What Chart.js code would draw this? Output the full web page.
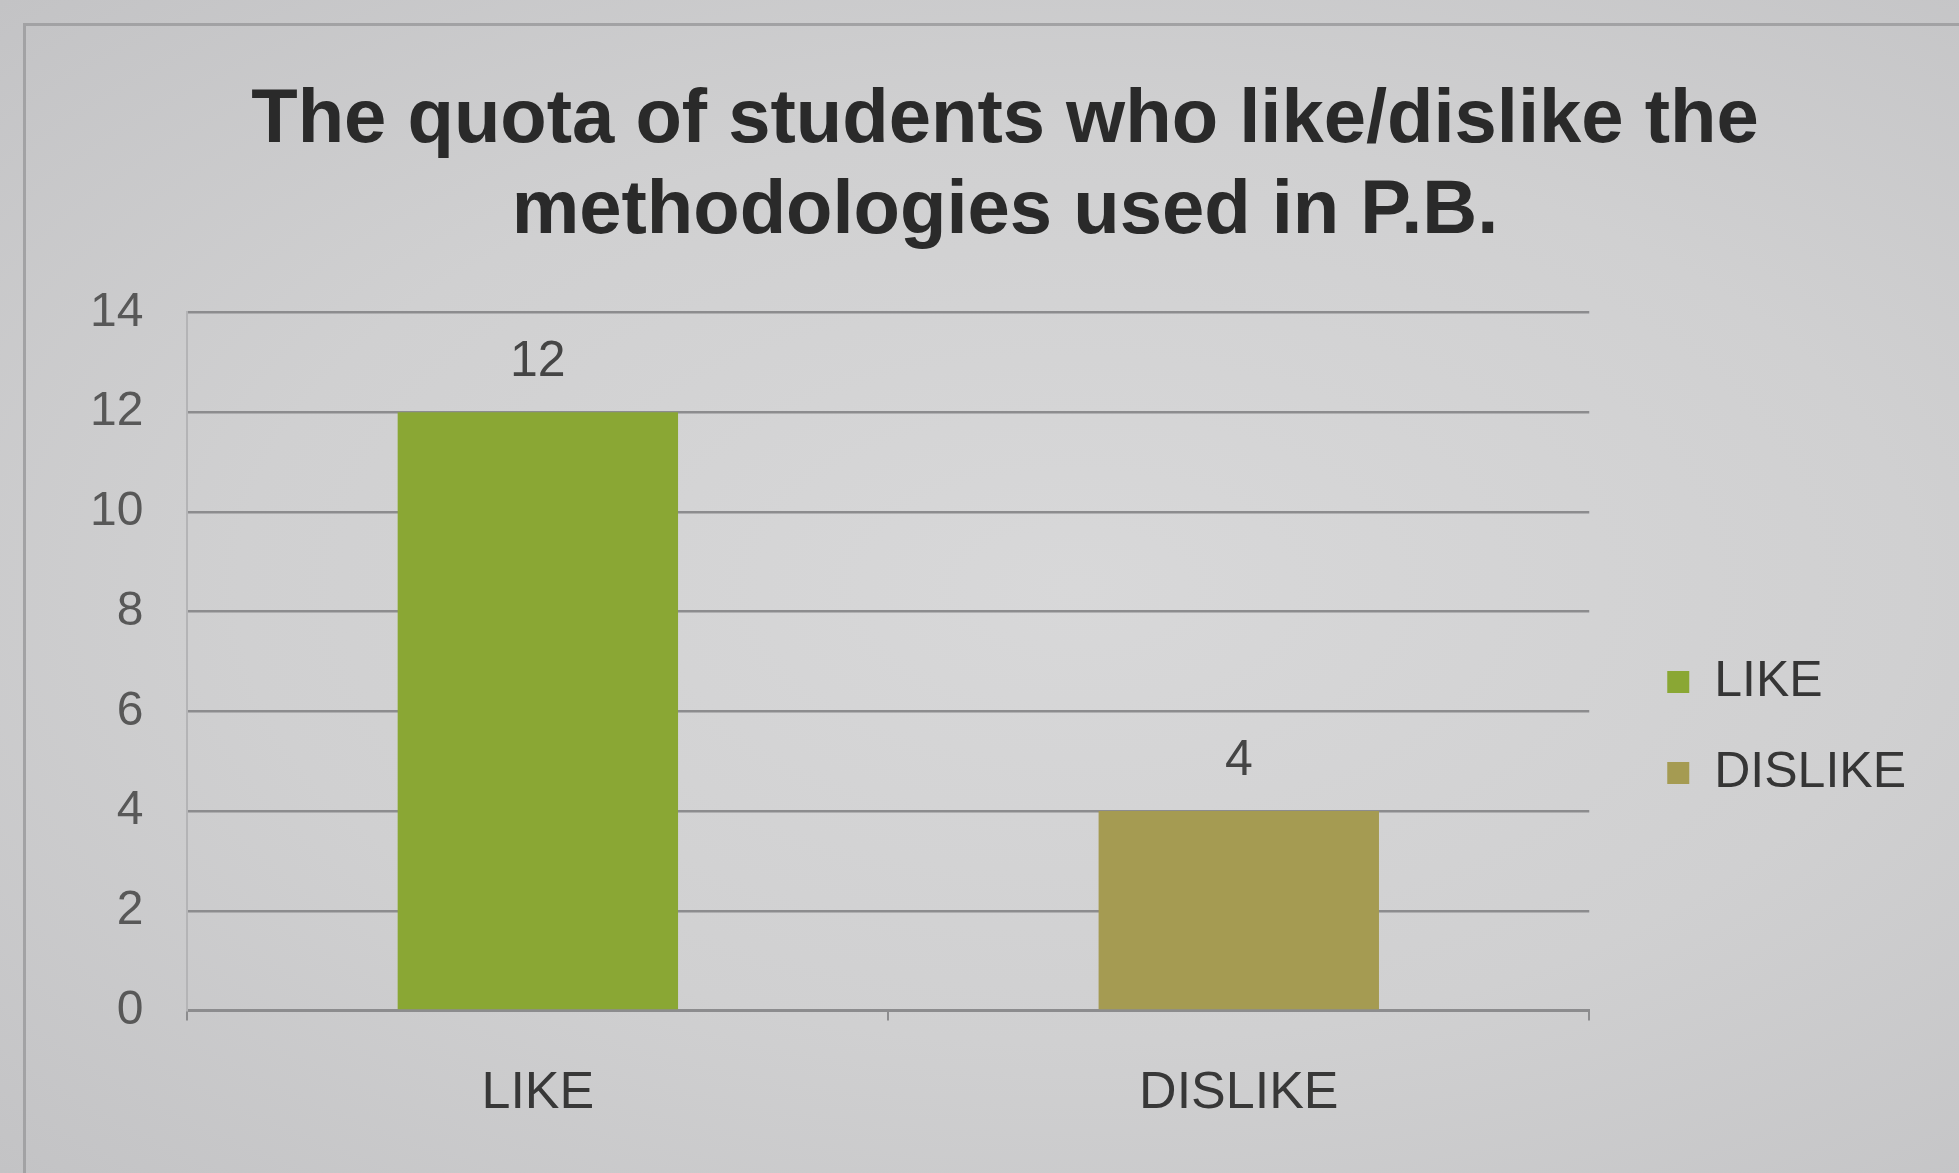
<!DOCTYPE html>
<html>
<head>
<meta charset="utf-8">
<title>Students like/dislike</title>
<script src="https://cdn.jsdelivr.net/npm/chart.js@4.4.1/dist/chart.umd.min.js"></script>
<style>
  html, body { margin: 0; padding: 0; }
  body {
    width: 1959px; height: 1173px; overflow: hidden; position: relative;
    background: radial-gradient(ellipse at 55% 50%, #d8d8d9 0%, #d0d0d1 55%, #c3c3c5 100%);
  }
  /* slide frame, only its top and left edges are visible */
  #frame {
    position: absolute; left: 23px; top: 23px; width: 2000px; height: 1200px;
    border-left: 3px solid #a2a2a4; border-top: 3px solid #a2a2a4;
  }
  #wrap { position: absolute; left: 0; top: 0; width: 1959px; height: 1173px; }
</style>
</head>
<body>
<div id="frame"></div>
<div id="wrap"><canvas id="mychart"></canvas></div>
<script>
let categories = ['LIKE', 'DISLIKE']
let students = [12, 4]
let yTicks = [0, 2, 4, 6, 8, 10, 12, 14]
let barColors = ['rgb(138, 167, 52)', 'rgb(165, 155, 82)']

let fontFamily = '"Liberation Sans", Arial, sans-serif'
let gridGray = 'rgb(140, 140, 142)'

// numbers above the bars
const barValues = {
  id: 'barValues',
  afterDatasetsDraw(chart) {
    const ctx = chart.ctx;
    ctx.save();
    ctx.font = '50px ' + fontFamily;
    ctx.fillStyle = '#454545';
    ctx.textAlign = 'center';
    ctx.textBaseline = 'middle';
    chart.getDatasetMeta(0).data.forEach((bar, i) => {
      ctx.fillText(chart.data.datasets[0].data[i], bar.x, bar.y - 50);
    });
    ctx.restore();
  }
};

// move title and legend blocks to where the slide has them
const blockShift = {
  id: 'blockShift',
  afterLayout(chart) {
    const area = chart.chartArea;
    const title = chart.titleBlock;
    const dx = 1005 - (title.left + title.right) / 2;
    title.left += dx;
    title.right += dx;

    const lg = chart.legend;
    const pad = lg.options.labels.padding;
    const lx = area.right + 78 - (lg.left + pad);
    const itemsTop = (lg.top + pad + lg.bottom - lg.columnSizes[0].height) / 2;
    const ly = 657 - itemsTop;
    lg.left += lx; lg.right += lx;
    lg.top += ly; lg.bottom += ly;
  }
};

let myChart = document.getElementById('mychart').getContext('2d');

let quotaChart = new Chart(myChart, {
  type: 'bar',
  data: {
    labels: categories,
    datasets: [
      {
        label: 'Students',
        data: students,
        backgroundColor: barColors,
        borderWidth: 0,
        categoryPercentage: 0.4,
        barPercentage: 1
      }
    ]
  },
  plugins: [barValues, blockShift],
  options: {
    responsive: true,
    maintainAspectRatio: false,
    animation: false,
    layout: {
      padding: { left: 46, right: 80, top: 0, bottom: 6 }
    },
    scales: {
      x: {
        grid: {
          display: true,
          drawOnChartArea: false,
          offset: true,
          tickLength: 10,
          color: gridGray,
          lineWidth: 2
        },
        border: { color: gridGray, width: 3 },
        ticks: {
          color: '#383838',
          padding: 42,
          font: { family: fontFamily, size: 52 }
        }
      },
      y: {
        min: yTicks[0],
        max: yTicks[yTicks.length - 1],
        grid: {
          color: gridGray,
          lineWidth: 2.5,
          drawTicks: false
        },
        border: { color: 'rgb(180, 180, 182)', width: 2 },
        ticks: {
          stepSize: yTicks[1] - yTicks[0],
          color: '#585858',
          padding: 44,
          font: { family: fontFamily, size: 48 }
        }
      }
    },
    plugins: {
      title: {
        display: true,
        text: ['The quota of students who like/dislike the', 'methodologies used in P.B.'],
        color: '#2a2a2a',
        font: { family: fontFamily, size: 76, weight: 'bold', lineHeight: 1.2 },
        padding: { top: 75, bottom: 55 }
      },
      legend: {
        display: true,
        position: 'right',
        labels: {
          color: '#363636',
          boxWidth: 22,
          boxHeight: 22,
          padding: 41,
          font: { family: fontFamily, size: 50 },
          generateLabels: (chart) => categories.map((name, i) => ({
            text: name,
            fillStyle: barColors[i],
            strokeStyle: barColors[i],
            fontColor: '#363636',
            lineWidth: 0,
            hidden: false,
            index: i
          }))
        }
      },
      tooltip: { enabled: false }
    }
  }
});
</script>
</body>
</html>
